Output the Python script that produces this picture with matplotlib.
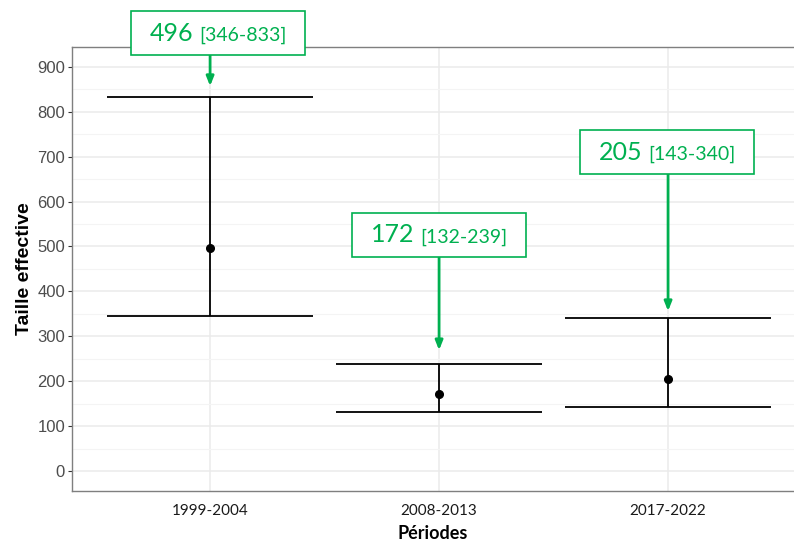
import matplotlib
matplotlib.use("Agg")
import matplotlib.pyplot as plt
from matplotlib.offsetbox import TextArea, HPacker, DrawingArea, AnnotationBbox
from matplotlib.ticker import MultipleLocator

# data
periods = ["1999-2004", "2008-2013", "2017-2022"]
estimate = [496, 172, 205]
lower = [346, 132, 143]
upper = [833, 239, 340]

# label box placement (data units)
label_y = [975, 526, 710]
label_dx = [0.035, 0.0, -0.005]
arrow_gap = [24, 30, 16]
box_half = 49

green = "#00B050"

fig = plt.figure(figsize=(7.94, 5.44), dpi=100)
ax = fig.add_axes([0.0907, 0.0974, 0.9093, 0.8162])

xpos = [1, 2, 3]
ax.errorbar(xpos, estimate,
            yerr=[[e - l for e, l in zip(estimate, lower)],
                  [u - e for u, e in zip(upper, estimate)]],
            fmt="none", ecolor="black", elinewidth=1.3, capsize=0, zorder=3)
for x, l, u in zip(xpos, lower, upper):
    ax.hlines([l, u], x - 0.45, x + 0.45, color="black", lw=1.3, zorder=3)
ax.plot(xpos, estimate, "o", color="black", ms=5.5, zorder=4)

ax.set_xlim(0.397, 3.55)
ax.set_ylim(-44.5, 944)
ax.yaxis.set_major_locator(MultipleLocator(100))
ax.yaxis.set_minor_locator(MultipleLocator(50))
ax.set_xticks(xpos)
ax.set_xticklabels(periods, fontfamily="Lato", fontsize=11, color="#1a1a1a")
for lab in ax.get_yticklabels():
    lab.set_fontfamily("Liberation Sans")
    lab.set_fontsize(12)
    lab.set_color("#4D4D4D")

ax.grid(which="major", color="#EBEBEB", lw=1.1, zorder=0)
ax.grid(which="minor", axis="y", color="#F4F4F4", lw=0.8, zorder=0)
ax.set_axisbelow(True)
ax.tick_params(axis="y", which="major", length=3, color="#333333", pad=2)
ax.tick_params(axis="y", which="minor", length=0)
ax.tick_params(axis="x", length=0, pad=9)

for side in ["top", "left", "bottom"]:
    ax.spines[side].set_color("#7F7F7F")
    ax.spines[side].set_linewidth(1.0)
ax.spines["right"].set_visible(False)

ax.set_xlabel("Périodes", fontfamily="Lato", fontweight="bold", fontsize=13, labelpad=5.5)
ax.set_ylabel("Taille effective", fontfamily="Liberation Sans", fontweight="bold",
              fontsize=14, labelpad=3)

for x, e, l, u, ly, dx, gap in zip(xpos, estimate, lower, upper, label_y, label_dx, arrow_gap):
    big = TextArea(str(e), textprops=dict(color=green, fontsize=18, fontfamily="Lato"))
    small = TextArea("[%d-%d]" % (l, u), textprops=dict(color=green, fontsize=14, fontfamily="Lato"))
    box = HPacker(children=[DrawingArea(2, 1), big, small, DrawingArea(2, 1)],
                  align="baseline", pad=0, sep=4)
    ab = AnnotationBbox(box, (x + dx, ly), xycoords="data",
                        box_alignment=(0.5, 0.5), pad=0.75,
                        bboxprops=dict(edgecolor=green, facecolor="white", lw=1.2),
                        annotation_clip=False, zorder=6)
    ax.add_artist(ab)
    ax.annotate("", xy=(x, u + gap), xytext=(x, ly - box_half),
                arrowprops=dict(arrowstyle="-|>,head_length=0.55,head_width=0.22",
                                color=green, lw=2, shrinkA=0, shrinkB=0),
                annotation_clip=False, zorder=5)

fig.savefig("out.png", dpi=100)
